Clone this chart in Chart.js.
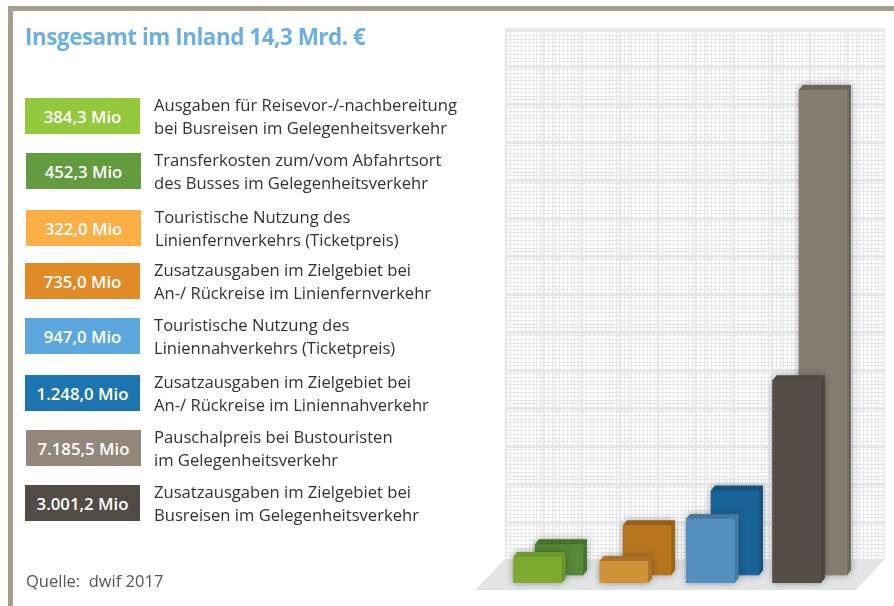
<!DOCTYPE html>
<html lang="de">
<head>
<meta charset="utf-8">
<title>Insgesamt im Inland 14,3 Mrd. €</title>
<script src="https://cdn.jsdelivr.net/npm/chart.js@4"></script>
<style>
    html, body { margin: 0; padding: 0; background: #fff; }
    #page { position: relative; width: 894px; height: 606px; overflow: hidden; font-family: "Open Sans", sans-serif; }
    #frameTop { position: absolute; left: 8px; top: 6px; right: 0; height: 5px; background: #a79c90; }
    #frameLeft { position: absolute; left: 8px; top: 6px; bottom: 0; width: 5px; background: #a79c90; }
    #chart { position: absolute; left: 0; top: 0; }
    h1 { position: absolute; left: 25px; top: 22px; margin: 0; font-size: 22.5px; letter-spacing: -0.5px; line-height: 30px; font-weight: 700; color: #6cb0e3; white-space: nowrap; }
    .box { position: absolute; width: 115px; height: 36px; line-height: 37px; text-align: center; color: #fff; font-size: 16.8px; font-weight: 600; }
    .text { position: absolute; font-size: 16.6px; line-height: 23px; color: #333132; white-space: nowrap; }
    #source { position: absolute; left: 26px; top: 569px; font-size: 16.5px; line-height: 23px; color: #59544f; white-space: pre; }
</style>
</head>
<body>
<div id="page">
    <div id="frameTop"></div>
    <div id="frameLeft"></div>
    <canvas id="chart" width="894" height="606"></canvas>
    <h1>Insgesamt im Inland 14,3 Mrd. €</h1>
    <div id="legend"></div>
    <div id="source">Quelle:  dwif 2017</div>
</div>
<script>
const groups = ['Gelegenheitsverkehr', 'Linienfernverkehr', 'Liniennahverkehr', 'Busreisen'];

// front row of bars, then back row (Mio €)
const frontValues = [384.3, 322.0, 947.0, 3001.2];
const backValues = [452.3, 735.0, 1248.0, 7185.5];

const frontColors = ['#7faa31', '#d09238', '#5390bf', '#544e47'];
const frontCaps = ['#6d9a2c', '#a9742a', '#44789f', '#4f4942'];
const frontSides = ['#6b9430', '#a8722a', '#437ca6', '#4b453f'];
const backColors = ['#568a37', '#b7761e', '#186496', '#857d72'];
const backCaps = ['#44712c', '#936016', '#14527c', '#6c655b'];
const backSides = ['#457530', '#9a6419', '#14547f', '#70695f'];

const legendValues = [384.3, 452.3, 322.0, 735.0, 947.0, 1248.0, 7185.5, 3001.2];
const legendColors = ['#94c83d', '#629c3f', '#fdae45', '#e08b26', '#5ca8de', '#1c75ae', '#93877c', '#524c46'];
const legendLines = [
    ['Ausgaben für Reisevor-/-nachbereitung', 'bei Busreisen im Gelegenheitsverkehr'],
    ['Transferkosten zum/vom Abfahrtsort', 'des Busses im Gelegenheitsverkehr'],
    ['Touristische Nutzung des', 'Linienfernverkehrs (Ticketpreis)'],
    ['Zusatzausgaben im Zielgebiet bei', 'An-/ Rückreise im Linienfernverkehr'],
    ['Touristische Nutzung des', 'Liniennahverkehrs (Ticketpreis)'],
    ['Zusatzausgaben im Zielgebiet bei', 'An-/ Rückreise im Liniennahverkehr'],
    ['Pauschalpreis bei Bustouristen', 'im Gelegenheitsverkehr'],
    ['Zusatzausgaben im Zielgebiet bei', 'Busreisen im Gelegenheitsverkehr']
];

// layout of the legend rows
const boxLeft = [25, 26, 26, 25, 25, 25, 26, 25];
const boxTop = [98, 153, 210, 263, 318, 375, 430, 485];
const textLeft = [154, 154, 155, 154, 154, 154, 154, 154];
const textTop = [93, 148, 205, 258, 313, 370, 425, 480];

const legend = document.getElementById('legend');
legendValues.forEach((value, i) => {
    const box = document.createElement('div');
    box.className = 'box';
    box.style.left = boxLeft[i] + 'px';
    box.style.top = boxTop[i] + 'px';
    box.style.background = legendColors[i];
    box.textContent = value.toLocaleString('de-DE', { minimumFractionDigits: 1 }) + ' Mio';
    legend.appendChild(box);

    const text = document.createElement('div');
    text.className = 'text';
    text.style.left = textLeft[i] + 'px';
    text.style.top = textTop[i] + 'px';
    text.innerHTML = legendLines[i].join('<br>');
    legend.appendChild(text);
});

// plot geometry
const areaLeft = 475, areaRight = 885, areaTop = 30, areaBottom = 583;
const pxPerMio = 0.0675;
const rowOffset = 8;   // back row stands this many px higher on the floor
const depthX = 4, depthY = 5;

function xRange(firstCenter, step) {
    const min = (areaLeft - firstCenter) / step;
    return { min: min, max: min + (areaRight - areaLeft) / step };
}

const yFrontMax = (areaBottom - areaTop) / pxPerMio;
const yBackMin = -rowOffset / pxPerMio;

const backdrop = {
    id: 'backdrop',
    beforeDraw(chart) {
        const ctx = chart.ctx;
        const left = 505, right = 885, top = 28, bottom = 559;
        ctx.save();
        ctx.fillStyle = '#e6e7e9';
        for (let x = left + 1; x < right; x += 3.8) {
            ctx.fillRect(Math.round(x), top, 1, bottom - top);
        }
        for (let y = top + 3; y < bottom; y += 3.8) {
            ctx.fillRect(left, Math.round(y), right - left, 1);
        }
        for (let x = left; x < right; x += 38) {
            ctx.fillRect(Math.round(x), top, 2, bottom - top);
        }
        for (let y = top; y < bottom; y += 38) {
            ctx.fillRect(left, Math.round(y), right - left, 2);
        }
        ctx.fillRect(left, top, right - left, 3);
        ctx.fillRect(right - 1, top, 1, bottom - top);
        // floor
        ctx.fillStyle = '#e3e4e6';
        ctx.beginPath();
        ctx.moveTo(475, 590);
        ctx.lineTo(505, 559);
        ctx.lineTo(885, 559);
        ctx.lineTo(856, 590);
        ctx.closePath();
        ctx.fill();
        ctx.restore();
    }
};

function polygon(ctx, points) {
    ctx.beginPath();
    points.forEach((p, i) => i ? ctx.lineTo(p[0], p[1]) : ctx.moveTo(p[0], p[1]));
    ctx.closePath();
    ctx.fill();
}

// chart.js only draws the front face, so add top and side of each block
const blocks = {
    id: 'blocks',
    beforeDatasetDraw(chart, args) {
        const ctx = chart.ctx;
        const ds = chart.data.datasets[args.index];
        args.meta.data.forEach((bar, i) => {
            const l = bar.x - bar.width / 2, r = bar.x + bar.width / 2;
            const t = bar.y, b = bar.base;
            ctx.save();
            ctx.shadowColor = 'rgba(40,40,40,0.45)';
            ctx.shadowBlur = 7;
            ctx.fillStyle = ds.sideColors[i];
            polygon(ctx, [[l, b], [l, t], [l + depthX, t - depthY], [r + depthX, t - depthY], [r + depthX, b - depthY], [r, b]]);
            ctx.restore();
            ctx.fillStyle = ds.sideColors[i];
            polygon(ctx, [[r, t], [r + depthX, t - depthY], [r + depthX, b - depthY], [r, b]]);
            ctx.fillStyle = ds.capColors[i];
            polygon(ctx, [[l, t], [l + depthX, t - depthY], [r + depthX, t - depthY], [r, t]]);
        });
    }
};

function points(values) {
    return values.map((v, i) => ({ x: i, y: v }));
}

new Chart(document.getElementById('chart'), {
    type: 'bar',
    data: {
        labels: groups,
        datasets: [
            {
                label: 'vorne',
                data: points(frontValues),
                backgroundColor: frontColors,
                capColors: frontCaps,
                sideColors: frontSides,
                barThickness: 48,
                grouped: false,
                xAxisID: 'xFront',
                yAxisID: 'yFront'
            },
            {
                label: 'hinten',
                data: points(backValues),
                backgroundColor: backColors,
                capColors: backCaps,
                sideColors: backSides,
                barThickness: 48,
                grouped: false,
                xAxisID: 'xBack',
                yAxisID: 'yBack'
            }
        ]
    },
    options: {
        responsive: false,
        animation: false,
        layout: {
            padding: { left: areaLeft, right: 894 - areaRight, top: areaTop, bottom: 606 - areaBottom }
        },
        plugins: { legend: { display: false }, tooltip: { enabled: false } },
        scales: {
            xFront: { type: 'linear', display: false, offset: false, ...xRange(537.5, 86.4) },
            xBack: { type: 'linear', display: false, offset: false, ...xRange(559, 88) },
            yFront: { display: false, min: 0, max: yFrontMax },
            yBack: { display: false, min: yBackMin, max: yBackMin + yFrontMax }
        }
    },
    plugins: [backdrop, blocks]
});
</script>
</body>
</html>
